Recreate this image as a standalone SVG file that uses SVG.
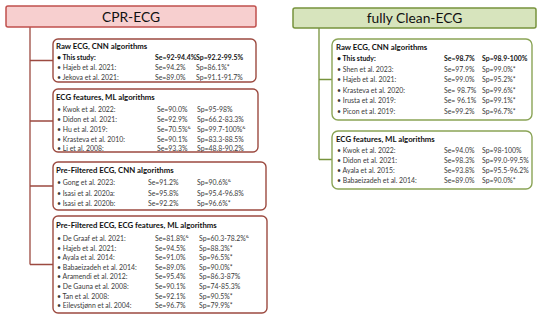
<svg xmlns="http://www.w3.org/2000/svg" width="550" height="320" viewBox="0 0 550 320">
<style>
text{font-family:Lato,"Open Sans","Liberation Sans",sans-serif;font-size:6.9px;fill:#3a3a3a}
.h{font-weight:bold;fill:#111;font-size:7.8px}
.b{font-weight:bold;fill:#111}
.title{font-size:13.8px;fill:#111;text-anchor:middle}
.redh{fill:#f7cfcf;stroke:#c0504d;stroke-width:1.5}
.greenh{fill:#d7e4bd;stroke:#77933c;stroke-width:1.5}
.redb{fill:#fff;stroke:#9c4a40;stroke-width:1.4}
.greenb{fill:#fff;stroke:#8aa456;stroke-width:1.4}
.rc{stroke:#9c4a40;stroke-width:1.3;fill:none}
.gc{stroke:#77933c;stroke-width:1.3;fill:none}
.s{font-size:4.6px}
</style>
<g id="connectors">
<path class="rc" d="M30 27V264.5M30 60.5H53M30 121H53M30 186H53M30 264.5H53"/>
<path class="gc" d="M319 28V159.5M319 79.5H332M319 159.5H332"/>
</g>
<g id="cpr-header">
<rect class="redh" x="6" y="6" width="250" height="21" rx="2"/>
<text class="title" x="131" y="21.5">CPR-ECG</text>
</g>
<g id="clean-header">
<rect class="greenh" x="293" y="8" width="243" height="20" rx="2"/>
<text class="title" x="414.5" y="23">fully Clean-ECG</text>
</g>
<g id="cpr-raw-cnn">
<rect class="redb" x="53" y="39" width="203" height="43" rx="5"/>
<text class="h" x="56" y="49">Raw ECG, CNN algorithms</text>
<text class="b" x="57" y="60">• This study:</text><text class="b" x="155" y="60">Se=92-94.4%</text><text class="b" x="196" y="60">Sp=92.2-99.5%</text>
<text x="57" y="70">• Hajeb et al. 2021:</text><text x="155" y="70">Se=94.2%</text><text x="196" y="70">Sp=86.1%*</text>
<text x="57" y="80">• Jekova et al. 2021:</text><text x="155" y="80">Se=89.0%</text><text x="196" y="80">Sp=91.1-91.7%</text>
</g>
<g id="cpr-feat-ml">
<rect class="redb" x="53" y="89" width="205" height="63" rx="5"/>
<text class="h" x="56" y="100">ECG features, ML algorithms</text>
<text x="57" y="111.5">• Kwok et al. 2022:</text><text x="157" y="111.5">Se=90.0%</text><text x="197" y="111.5">Sp=95-98%</text>
<text x="57" y="121.5">• Didon et al. 2021:</text><text x="157" y="121.5">Se=92.9%</text><text x="197" y="121.5">Sp=66.2-83.3%</text>
<text x="57" y="131.5">• Hu et al. 2019:</text><text x="157" y="131.5">Se=70.5%<tspan class="s" dy="-3">&amp;</tspan></text><text x="197" y="131.5">Sp=99.7-100%<tspan class="s" dy="-3">&amp;</tspan></text>
<text x="57" y="141.5">• Krasteva et al. 2010:</text><text x="157" y="141.5">Se=90.1%</text><text x="197" y="141.5">Sp=83.3-88.5%</text>
<text x="57" y="151">• Li et al. 2008:</text><text x="157" y="151">Se=93.3%</text><text x="197" y="151">Sp=48.8-90.2%</text>
</g>
<g id="cpr-pre-cnn">
<rect class="redb" x="53" y="162" width="213" height="48" rx="5"/>
<text class="h" x="56" y="172.5">Pre-Filtered ECG, CNN algorithms</text>
<text x="57" y="185">• Gong et al. 2023:</text><text x="148" y="185">Se=91.2%</text><text x="197" y="185">Sp=90.6%<tspan class="s" dy="-3">&amp;</tspan></text>
<text x="57" y="195.5">• Isasi et al. 2020a:</text><text x="148" y="195.5">Se=95.8%</text><text x="197" y="195.5">Sp=95.4-96.8%</text>
<text x="57" y="205.5">• Isasi et al. 2020b:</text><text x="148" y="205.5">Se=92.2%</text><text x="197" y="205.5">Sp=96.6%*</text>
</g>
<g id="cpr-pre-feat-ml">
<rect class="redb" x="53" y="216" width="214" height="97" rx="5"/>
<text class="h" x="56" y="228">Pre-Filtered ECG, ECG features, ML algorithms</text>
<text x="57" y="241">• De Graaf et al. 2021:</text><text x="155" y="241">Se=81.8%<tspan class="s" dy="-3">&amp;</tspan></text><text x="199" y="241">Sp=60.3-78.2%<tspan class="s" dy="-3">&amp;</tspan></text>
<text x="57" y="250.6">• Hajeb et al. 2021:</text><text x="155" y="250.6">Se=94.5%</text><text x="199" y="250.6">Sp=88.3%*</text>
<text x="57" y="260.2">• Ayala et al. 2014:</text><text x="155" y="260.2">Se=91.0%</text><text x="199" y="260.2">Sp=96.5%*</text>
<text x="57" y="269.8">• Babaeizadeh et al. 2014:</text><text x="155" y="269.8">Se=89.0%</text><text x="199" y="269.8">Sp=90.0%*</text>
<text x="57" y="279.4">• Aramendi et al. 2012:</text><text x="155" y="279.4">Se=95.4%</text><text x="199" y="279.4">Sp=86.3-87%</text>
<text x="57" y="289">• De Gauna et al. 2008:</text><text x="155" y="289">Se=90.1%</text><text x="199" y="289">Sp=74-85.3%</text>
<text x="57" y="298.6">• Tan et al. 2008:</text><text x="155" y="298.6">Se=92.1%</text><text x="199" y="298.6">Sp=90.5%*</text>
<text x="57" y="308.2">• Eilevstjønn et al. 2004:</text><text x="155" y="308.2">Se=96.7%</text><text x="199" y="308.2">Sp=79.9%*</text>
</g>
<g id="clean-raw-cnn">
<rect class="greenb" x="332" y="39" width="200" height="81" rx="6"/>
<text class="h" x="336" y="50">Raw ECG, CNN algorithms</text>
<text class="b" x="337" y="61">• This study:</text><text class="b" x="444" y="61">Se=98.7%</text><text class="b" x="482" y="61">Sp=98.9-100%</text>
<text x="337" y="71.5">• Shen et al. 2023:</text><text x="444" y="71.5">Se=97.9%</text><text x="482" y="71.5">Sp=99.0%*</text>
<text x="337" y="82">• Hajeb et al. 2021:</text><text x="444" y="82">Se=99.0%</text><text x="482" y="82">Sp=95.2%*</text>
<text x="337" y="92.5">• Krasteva et al. 2020:</text><text x="444" y="92.5">Se= 98.7%</text><text x="482" y="92.5">Sp=99.6%*</text>
<text x="337" y="103">• Irusta et al. 2019:</text><text x="444" y="103">Se= 96.1%</text><text x="482" y="103">Sp=99.1%*</text>
<text x="337" y="113.5">• Picon et al. 2019:</text><text x="444" y="113.5">Se=99.2%</text><text x="482" y="113.5">Sp=96.7%*</text>
</g>
<g id="clean-feat-ml">
<rect class="greenb" x="332" y="131" width="200" height="58" rx="6"/>
<text class="h" x="336" y="142">ECG features, ML algorithms</text>
<text x="337" y="153">• Kwok et al. 2022:</text><text x="444" y="153">Se=94.0%</text><text x="482" y="153">Sp=98-100%</text>
<text x="337" y="163">• Didon et al. 2021:</text><text x="444" y="163">Se=98.3%</text><text x="482" y="163">Sp=99.0-99.5%</text>
<text x="337" y="173">• Ayala et al. 2015:</text><text x="444" y="173">Se=93.8%</text><text x="482" y="173">Sp=95.5-96.2%</text>
<text x="337" y="183">• Babaeizadeh et al. 2014:</text><text x="444" y="183">Se=89.0%</text><text x="482" y="183">Sp=90.0%*</text>
</g>
</svg>
